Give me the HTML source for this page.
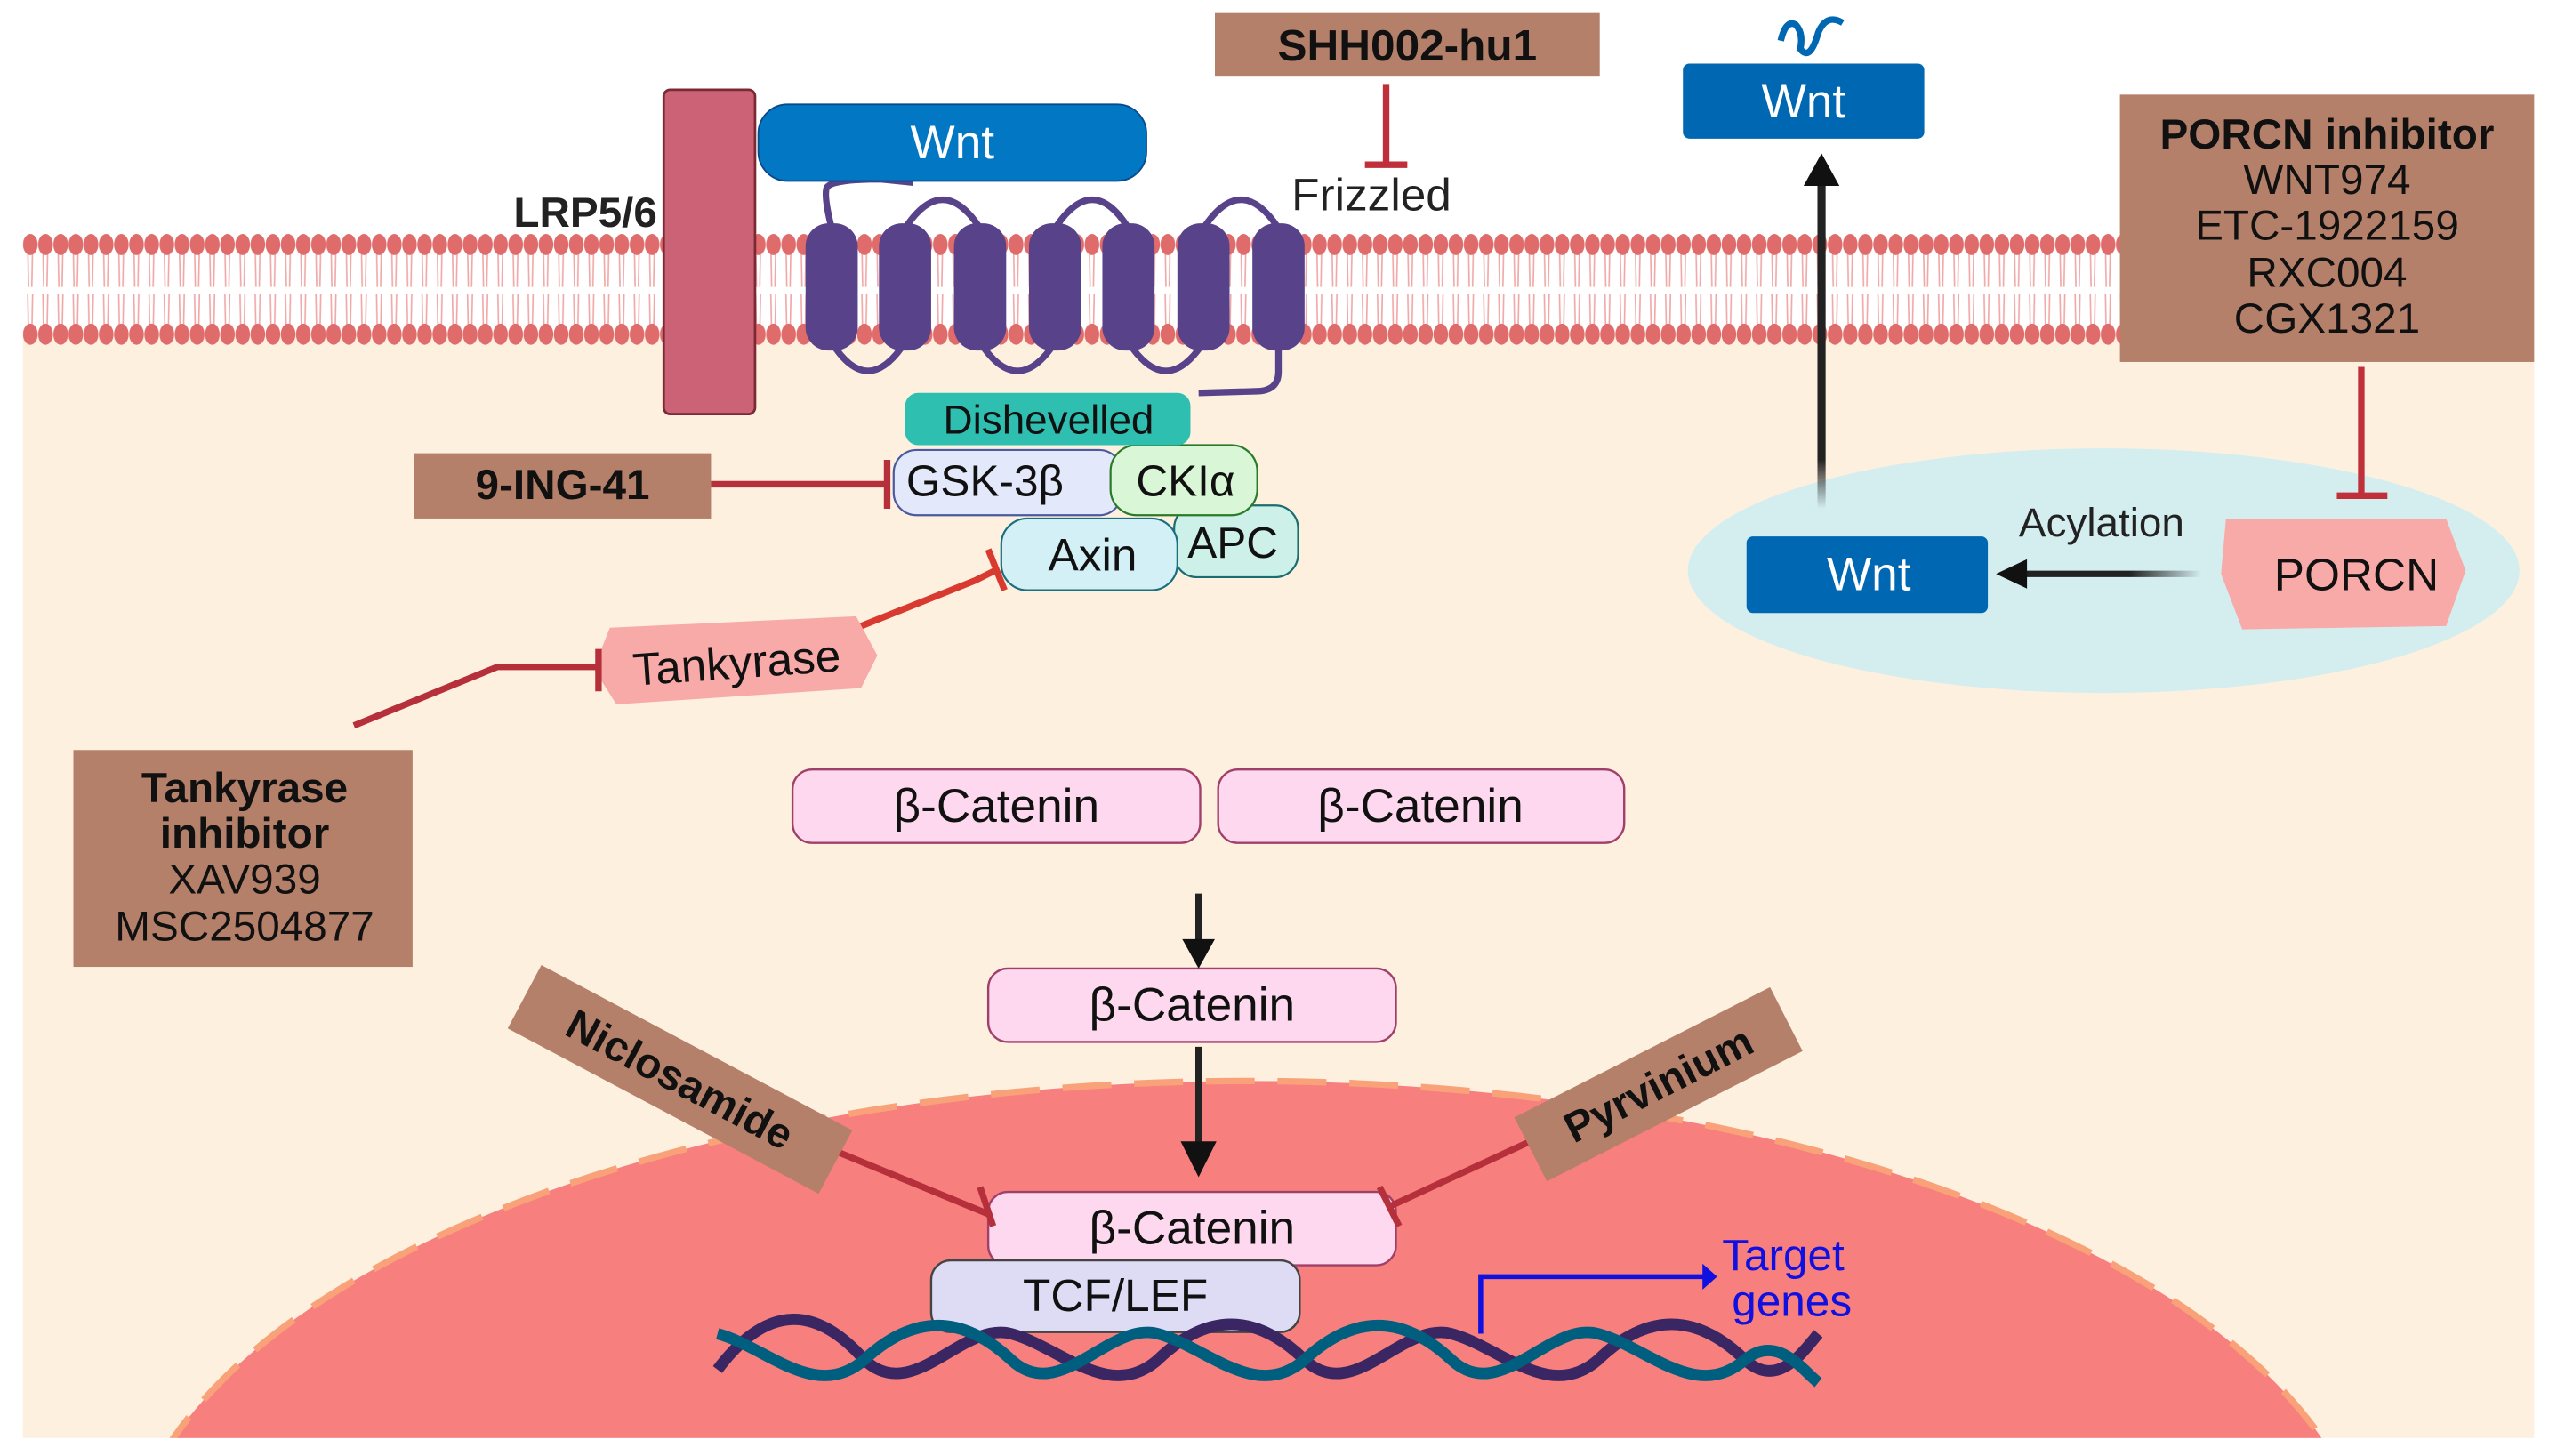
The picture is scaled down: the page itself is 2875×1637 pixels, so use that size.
<!DOCTYPE html>
<html><head><meta charset="utf-8"><style>html,body{margin:0;padding:0;background:#fff;overflow:hidden;width:2875px;height:1637px}svg{display:block}text{font-family:"Liberation Sans",sans-serif}</style></head>
<body>
<svg width="2875" height="1637" viewBox="0 0 1568 893" preserveAspectRatio="none" xmlns="http://www.w3.org/2000/svg">
<defs>
<pattern id="lip" x="14" y="0" width="9.3" height="893" patternUnits="userSpaceOnUse">
<path d="M3 150 L3.5 176 M6 150 L5.5 176 M3 180 L3.5 205 M6 180 L5.5 205" stroke="#f0a8a8" stroke-width="0.9" fill="none"/>
<ellipse cx="4.6" cy="150" rx="4.5" ry="6.5" fill="#e06b6b"/>
<ellipse cx="4.6" cy="205" rx="4.5" ry="6.5" fill="#e06b6b"/>
</pattern>
<linearGradient id="fade" gradientUnits="userSpaceOnUse" x1="1117" y1="312" x2="1117" y2="110"><stop offset="0" stop-color="#222" stop-opacity="0"/><stop offset="0.15" stop-color="#222"/></linearGradient>
<linearGradient id="fadeh" gradientUnits="userSpaceOnUse" x1="1350" y1="0" x2="1240" y2="0"><stop offset="0" stop-color="#222" stop-opacity="0"/><stop offset="0.4" stop-color="#222"/></linearGradient>
</defs>
<rect x="14" y="205" width="1540" height="677" fill="#fdf0df"/>
<rect x="14" y="140" width="1290" height="75" fill="url(#lip)"/>
<!-- nucleus -->
<ellipse cx="765" cy="975" rx="690" ry="312" fill="#f77f7d" stroke="#f9a27a" stroke-width="4" stroke-dasharray="30 14"/>
<rect x="0" y="882" width="1568" height="11" fill="#fff"/>
<!-- LRP -->
<rect x="407" y="55" width="56" height="199" rx="4" fill="#cc6275" stroke="#7a2a35" stroke-width="1.5"/>
<text x="403" y="139" font-size="26" font-weight="bold" text-anchor="end" fill="#222">LRP5/6</text>
<!-- frizzled -->
<g fill="none" stroke="#58438b" stroke-width="4">
<path d="M510 140 Q505 120 507 115 Q510 110 540 110 L560 112"/>
<path d="M555 140 Q578 105 601 140"/><path d="M647 140 Q670 105 692 140"/><path d="M738 140 Q761 105 784 140"/>
<path d="M510 210 Q532 245 555 210"/><path d="M601 210 Q624 245 647 210"/><path d="M692 210 Q715 245 738 210"/>
<path d="M784 210 L784 228 Q784 240 770 240 L735 241"/>
</g>
<g fill="#58438b">
<rect x="494" y="137" width="32" height="78" rx="14"/><rect x="539" y="137" width="32" height="78" rx="14"/><rect x="585" y="137" width="32" height="78" rx="14"/><rect x="631" y="137" width="32" height="78" rx="14"/><rect x="676" y="137" width="32" height="78" rx="14"/><rect x="722" y="137" width="32" height="78" rx="14"/><rect x="768" y="137" width="32" height="78" rx="14"/>
</g>
<rect x="465" y="64" width="238" height="47" rx="18" fill="#0277c4" stroke="#0a4a8a" stroke-width="1"/>
<text x="584" y="97" font-size="29" fill="#fff" text-anchor="middle">Wnt</text>
<text x="792" y="129" font-size="28" fill="#222">Frizzled</text>
<!-- SHH -->
<rect x="745" y="8" width="236" height="39" fill="#b5806a"/>
<text x="863" y="37" font-size="27" font-weight="bold" text-anchor="middle" fill="#111">SHH002-hu1</text>
<path d="M850 52 V100 M837 101 H863" stroke="#c0303a" stroke-width="4"/>
<!-- right side -->
<path d="M1092 25 Q1095 12 1101 15 Q1106 20 1104 30 Q1110 38 1115 20 Q1120 8 1130 14" fill="none" stroke="#0067b3" stroke-width="4"/>
<rect x="1032" y="39" width="148" height="46" rx="4" fill="#0067b3"/>
<text x="1106" y="72" font-size="29" fill="#fff" text-anchor="middle">Wnt</text>
<ellipse cx="1290" cy="350" rx="255" ry="75" fill="#d4eef0"/>
<path d="M1117 312 V110" stroke="url(#fade)" stroke-width="5"/>
<path d="M1106 114 L1117 94 L1128 114 Z" fill="#111"/>
<rect x="1300" y="58" width="254" height="164" fill="#b5806a"/>
<g font-size="26" text-anchor="middle" fill="#111"><text x="1427" y="91" font-weight="bold">PORCN inhibitor</text><text x="1427" y="119">WNT974</text><text x="1427" y="147">ETC-1922159</text><text x="1427" y="176">RXC004</text><text x="1427" y="204">CGX1321</text></g>
<path d="M1448 225 V303 M1433 304 H1464" stroke="#c0303a" stroke-width="4"/>
<rect x="1071" y="329" width="148" height="47" rx="4" fill="#0067b3"/>
<text x="1146" y="362" font-size="29" fill="#fff" text-anchor="middle">Wnt</text>
<path d="M1365 318 L1500 318 L1512 350 L1500 384 L1375 386 L1362 352 Z" fill="#f8aaa8" stroke-linejoin="round"/>
<text x="1445" y="362" font-size="28" text-anchor="middle" fill="#111">PORCN</text>
<text x="1238" y="329" font-size="25" fill="#222">Acylation</text>
<path d="M1350 352 H1240" stroke="url(#fadeh)" stroke-width="4"/>
<path d="M1243 343 L1224 352 L1243 361 Z" fill="#111"/>
<!-- destruction complex -->
<rect x="720" y="310" width="76" height="44" rx="14" fill="#cdf0e8" stroke="#1a6e70" stroke-width="1.2"/>
<text x="756" y="342" font-size="27" text-anchor="middle" fill="#111">APC</text>
<rect x="548" y="276" width="140" height="40" rx="14" fill="#e3e8fa" stroke="#4a5aa0" stroke-width="1.2"/>
<text x="604" y="304" font-size="27" text-anchor="middle" fill="#111">GSK-3β</text>
<rect x="681" y="273" width="90" height="43" rx="16" fill="#d9f7d6" stroke="#2a7a2a" stroke-width="1.2"/>
<text x="727" y="304" font-size="27" text-anchor="middle" fill="#111">CKIα</text>
<rect x="614" y="318" width="108" height="44" rx="16" fill="#d2f0f5" stroke="#1a6e80" stroke-width="1.2"/>
<text x="670" y="350" font-size="28" text-anchor="middle" fill="#111">Axin</text>
<rect x="555" y="241" width="175" height="32" rx="8" fill="#2fbfb0"/>
<text x="643" y="266" font-size="25" text-anchor="middle" fill="#111">Dishevelled</text>
<!-- 9-ING -->
<rect x="254" y="278" width="182" height="40" fill="#b5806a"/>
<text x="345" y="306" font-size="26" font-weight="bold" text-anchor="middle" fill="#111">9-ING-41</text>
<path d="M436 297 H543 M544 282 V312" stroke="#b5303a" stroke-width="4"/>
<!-- tankyrase -->
<path d="M528 384 L598 356 L610 350 M606 337 L616 362" stroke="#d83a30" stroke-width="4" fill="none"/>
<path d="M374 385 L525 378 L538 402 L528 422 L378 432 L364 410 Z" fill="#f8aaa8"/>
<text x="452" y="416" font-size="28" text-anchor="middle" fill="#111" transform="rotate(-4 452 410)">Tankyrase</text>
<path d="M217 445 L305 409 H366 M367 398 V424" stroke="#b5303a" stroke-width="4" fill="none"/>
<rect x="45" y="460" width="208" height="133" fill="#b5806a"/>
<g font-size="26" text-anchor="middle" fill="#111"><text x="150" y="492" font-weight="bold">Tankyrase</text><text x="150" y="520" font-weight="bold">inhibitor</text><text x="150" y="548">XAV939</text><text x="150" y="577">MSC2504877</text></g>
<!-- beta catenin -->
<g fill="#fdd8ee" stroke="#a0406a" stroke-width="1.3">
<rect x="486" y="472" width="250" height="45" rx="12"/><rect x="747" y="472" width="249" height="45" rx="12"/><rect x="606" y="594" width="250" height="45" rx="12"/><rect x="606" y="731" width="250" height="45" rx="12"/>
</g>
<g font-size="29" text-anchor="middle" fill="#111"><text x="611" y="504">β-Catenin</text><text x="871" y="504">β-Catenin</text><text x="731" y="626">β-Catenin</text><text x="731" y="763">β-Catenin</text></g>
<path d="M735 548 V580" stroke="#222" stroke-width="4"/><path d="M725 576 L735 594 L745 576 Z" fill="#111"/>
<path d="M735 642 V705" stroke="#222" stroke-width="4"/><path d="M724 700 L735 722 L746 700 Z" fill="#111"/>
<!-- TCF -->
<rect x="571" y="773" width="226" height="44" rx="12" fill="#dedcf5" stroke="#444" stroke-width="1.3"/>
<text x="684" y="804" font-size="28" text-anchor="middle" fill="#111">TCF/LEF</text>
<!-- DNA -->
<path d="M440 840 C470 800 500 800 530 834 C560 862 590 810 620 818 C650 826 680 860 710 834 C740 805 770 805 800 834 C830 862 860 810 890 818 C920 826 950 860 980 834 C1010 805 1040 805 1070 834 C1090 852 1105 830 1115 818" fill="none" stroke="#3a2662" stroke-width="7"/>
<path d="M440 818 C470 826 500 860 530 834 C560 806 590 806 620 834 C650 862 680 810 710 818 C740 826 770 860 800 834 C830 806 860 806 890 834 C920 862 950 810 980 818 C1010 826 1040 860 1070 834 C1090 818 1105 840 1115 848" fill="none" stroke="#005f7f" stroke-width="7"/>
<path d="M908 818 V783 H1045" fill="none" stroke="#1010e0" stroke-width="3"/>
<path d="M1044 775 L1053 783 L1044 791 Z" fill="#1010e0"/>
<text x="1056" y="779" font-size="27" fill="#1010e0">Target</text>
<text x="1062" y="807" font-size="27" fill="#1010e0">genes</text>
<!-- Niclosamide / Pyrvinium -->
<path d="M510 705 L607 745 M601 728 L609 752" stroke="#b5303a" stroke-width="4"/>
<path d="M945 697 L852 740 M846 728 L858 752" stroke="#b5303a" stroke-width="4"/>
<g transform="translate(417 662) rotate(28)"><rect x="-108" y="-22" width="216" height="44" fill="#b5806a"/><text x="0" y="9" font-size="26" font-weight="bold" text-anchor="middle" fill="#111">Niclosamide</text></g>
<g transform="translate(1017 665) rotate(-27)"><rect x="-88" y="-22" width="176" height="44" fill="#b5806a"/><text x="0" y="9" font-size="26" font-weight="bold" text-anchor="middle" fill="#111">Pyrvinium</text></g>
</svg>
</body></html>
